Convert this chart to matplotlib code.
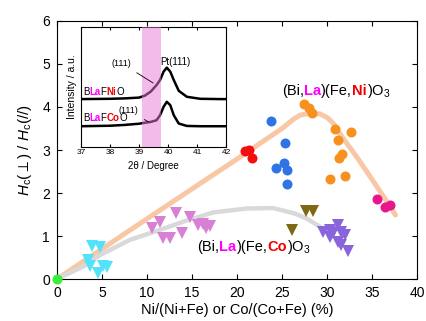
import matplotlib
matplotlib.use('Agg')
import matplotlib.pyplot as plt
from matplotlib.offsetbox import TextArea, HPacker, AnnotationBbox

plt.rcParams['font.family'] = ['Liberation Sans', 'DejaVu Sans']
plt.rcParams['mathtext.fontset'] = 'custom'
plt.rcParams['mathtext.rm'] = 'Liberation Sans'
plt.rcParams['mathtext.it'] = 'Liberation Sans:italic'

# (Bi,La)(Fe,Ni)O3 groups: circles
ni_red_x = [20.9, 21.3, 21.7]
ni_red_y = [2.97, 2.99, 2.82]
ni_blue_x = [23.8, 25.3, 25.2, 24.3, 25.6, 25.5]
ni_blue_y = [3.67, 3.17, 2.70, 2.57, 2.53, 2.22]
ni_orange_x = [27.4, 28.0, 28.3, 30.9, 32.7, 31.2, 31.7, 31.3, 30.3, 32.0]
ni_orange_y = [4.07, 3.97, 3.85, 3.48, 3.41, 3.23, 2.91, 2.81, 2.33, 2.40]
ni_pink_x = [35.5, 36.4, 37.0]
ni_pink_y = [1.86, 1.68, 1.72]

# (Bi,La)(Fe,Co)O3 groups: triangles
co_cyan_x = [3.85, 4.8, 3.5, 3.7, 5.1, 5.6, 4.5]
co_cyan_y = [0.77, 0.74, 0.44, 0.30, 0.30, 0.27, 0.13]
co_orchid_x = [10.5, 11.4, 11.8, 12.5, 13.2, 13.9, 14.8, 15.7, 16.2, 16.5, 17.0]
co_orchid_y = [1.18, 1.33, 0.95, 0.95, 1.53, 1.08, 1.45, 1.25, 1.28, 1.18, 1.24]
co_olive_x = [27.7, 28.4, 26.1]
co_olive_y = [1.57, 1.57, 1.14]
co_purple_x = [29.6, 30.3, 31.2, 31.6, 31.95, 30.7, 31.2, 31.6, 32.3, 30.3]
co_purple_y = [1.10, 1.14, 1.26, 1.10, 1.02, 1.06, 0.87, 0.79, 0.66, 0.98]

bfo_x = [0]
bfo_y = [0]

# guide curves
ni_curve_x = [0, 10, 20, 25, 26.3, 27, 28, 29.2, 30, 30.7, 31.8, 33.3, 34.8, 36.3, 37.6]
ni_curve_y = [0, 1.4, 2.79, 3.5, 3.72, 3.81, 3.85, 3.84, 3.76, 3.62, 3.27, 2.84, 2.38, 1.91, 1.49]
co_curve_x = [0, 2.9, 4.8, 8.1, 11.4, 14.4, 17.4, 21.1, 24, 26.3, 27.7, 29.2, 29.8]
co_curve_y = [0, 0.29, 0.56, 0.91, 1.14, 1.36, 1.55, 1.64, 1.65, 1.53, 1.41, 1.22, 1.12]

# inset XRD
two_theta = [37, 38, 38.5, 39.0, 39.2, 39.4, 39.6, 39.72, 39.84, 39.95, 40.07, 40.19,
             40.36, 40.64, 41.1, 41.8, 42]
xrd_ni = [48, 48.3, 48.7, 49.5, 51.5, 55.5, 62, 67, 75.3, 79.3, 75.3, 67,
          56.3, 50.3, 48.3, 48, 48]
xrd_co = [21, 21.5, 22.3, 23.5, 24.5, 25.3, 27, 32, 40.3, 45.3, 42, 32,
          23.7, 21.3, 21, 21, 21]


def formula(ax, parts, xy, size):
    boxes = [TextArea(t, textprops=dict(color=c, fontsize=size, fontweight=w))
             for t, c, w in parts]
    pack = HPacker(children=boxes, align='baseline', pad=0, sep=0)
    ab = AnnotationBbox(pack, xy, xycoords='data', frameon=False,
                        box_alignment=(0, 0.5), pad=0)
    ax.add_artist(ab)


fig = plt.figure(figsize=(4.26, 3.21), dpi=100)
ax = fig.add_axes([0.1338, 0.1308, 0.8451, 0.8038])

ax.plot(ni_curve_x, ni_curve_y, color='#F8C8A6', lw=3.6, solid_joinstyle='round',
        solid_capstyle='round', zorder=1)
ax.plot(co_curve_x, co_curve_y, color='#D9D9D9', lw=3.2, solid_joinstyle='round',
        solid_capstyle='round', zorder=1)

ms_c = 7.2
ms_t = 8.5
for xs, ys, col in [(ni_red_x, ni_red_y, '#F40F0F'), (ni_blue_x, ni_blue_y, '#2F74E6'),
                    (ni_orange_x, ni_orange_y, '#F8901E'), (ni_pink_x, ni_pink_y, '#E8168C')]:
    ax.plot(xs, ys, 'o', color=col, ms=ms_c, mew=0, zorder=3)
for xs, ys, col in [(co_cyan_x, co_cyan_y, '#52E3FA'), (co_orchid_x, co_orchid_y, '#D880D6'),
                    (co_olive_x, co_olive_y, '#7E6814'), (co_purple_x, co_purple_y, '#8A64DA')]:
    ax.plot(xs, ys, 'v', color=col, ms=ms_t, mew=0, zorder=3)
ax.plot(bfo_x, bfo_y, 'o', color='#3AEE3A', ms=ms_c, mew=0, zorder=4, clip_on=False)

ax.set_xlim(0, 40)
ax.set_ylim(0, 6)
ax.set_xticks(range(0, 41, 5))
ax.set_yticks(range(0, 7))
ax.tick_params(direction='in', top=True, right=True, length=3.5, labelsize=10, pad=5)
ax.set_xlabel('Ni/(Ni+Fe) or Co/(Co+Fe) (%)', fontsize=10.5, labelpad=2)
ax.set_ylabel(r'$H_{\rm c}(\perp)$ / $H_{\rm c}(//)$', fontsize=11, labelpad=6)

formula(ax, [('(Bi,', 'black', 'normal'), ('La', '#FF00FF', 'bold'),
             (')(Fe,', 'black', 'normal'), ('Ni', '#F00000', 'bold'),
             (')O$_3$', 'black', 'normal')], (25.0, 4.37), 10.5)
formula(ax, [('(Bi,', 'black', 'normal'), ('La', '#FF00FF', 'bold'),
             (')(Fe,', 'black', 'normal'), ('Co', '#F00000', 'bold'),
             (')O$_3$', 'black', 'normal')], (15.6, 0.75), 10.5)

# inset
ins = fig.add_axes([0.190, 0.541, 0.3415, 0.3757])
ins.plot(two_theta, xrd_ni, color='black', lw=1.8, zorder=2)
ins.plot(two_theta, xrd_co, color='black', lw=1.8, zorder=2)
ins.axvspan(39.1, 39.75, color='#E979D7', alpha=0.5, lw=0, zorder=3)
ins.set_xlim(37, 42)
ins.set_ylim(0, 120)
ins.set_yticks([])
ins.set_xticks(range(37, 43))
ins.tick_params(direction='in', top=True, length=2.5, labelsize=6, pad=1.5)
ins.set_xlabel('2θ / Degree', fontsize=7, labelpad=3)
ins.set_ylabel('Intensity / a.u.', fontsize=7.5, labelpad=3)

formula(ins, [('B', 'black', 'normal'), ('La', '#FF00FF', 'bold'),
              ('F', 'black', 'normal'), ('Ni', '#F00000', 'bold'),
              ('O', 'black', 'normal')], (37.07, 55.3), 7)
formula(ins, [('B', 'black', 'normal'), ('La', '#FF00FF', 'bold'),
              ('F', 'black', 'normal'), ('Co', '#F00000', 'bold'),
              ('O', 'black', 'normal')], (37.07, 29), 7)
ins.annotate('(111)', xy=(39.48, 64), xytext=(38.4, 83.7), fontsize=6.5,
             ha='center', va='center',
             arrowprops=dict(arrowstyle='-', lw=0.6, color='black', shrinkA=3, shrinkB=0))
ins.annotate('(111)', xy=(39.32, 25.3), xytext=(38.63, 37), fontsize=6.5,
             ha='center', va='center',
             arrowprops=dict(arrowstyle='-', lw=0.6, color='black', shrinkA=3, shrinkB=0))
ins.text(40.24, 85.3, 'Pt(111)', fontsize=7, ha='center', va='center')

fig.savefig('out.png', dpi=100)
